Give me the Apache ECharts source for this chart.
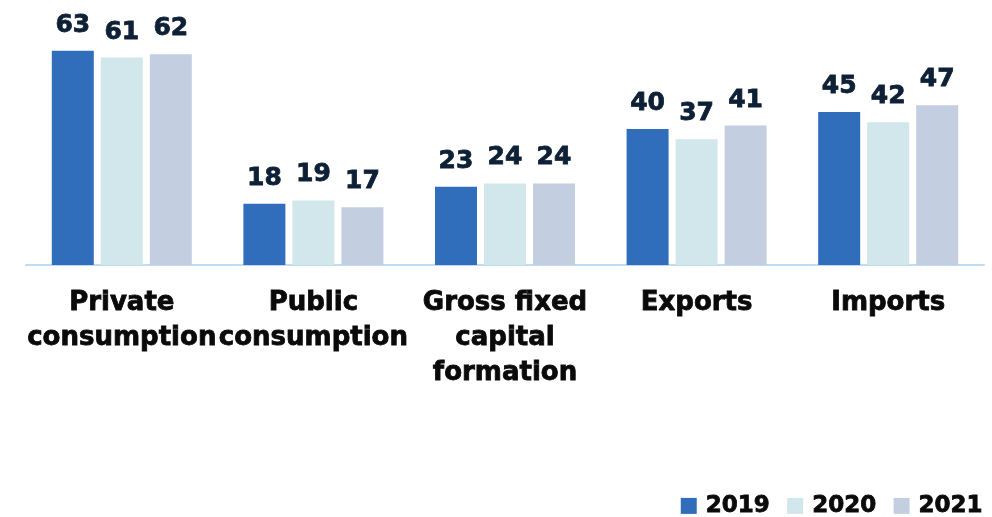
<!DOCTYPE html>
<html>
<head>
<meta charset="utf-8">
<script src="https://cdn.jsdelivr.net/npm/echarts@6/dist/echarts.min.js"></script>
<style>
  html, body { margin: 0; padding: 0; background: #ffffff; }
  #chart { width: 992px; height: 517px; }
</style>
</head>
<body>
<div id="chart"></div>
<script>
// Expenditure components, three years side by side
const categories = [
  'Private\nconsumption',
  'Public\nconsumption',
  'Gross fixed\ncapital\nformation',
  'Exports',
  'Imports'
];
const years = ['2019', '2020', '2021'];
const values2019 = [63, 18, 23, 40, 45];
const values2020 = [61, 19, 24, 37, 42];
const values2021 = [62, 17, 24, 41, 47];

const colors = ['#306EBB', '#D1E7EC', '#C3CEE0'];
const fontFamily = '"DejaVu Sans", sans-serif';
const inkDark = '#0a0a0a';
const inkNavy = '#0D2036';

const seriesData = [values2019, values2020, values2021];

const chart = echarts.init(document.getElementById('chart'), null, { renderer: 'canvas' });

chart.setOption({
  animation: false,
  backgroundColor: '#ffffff',
  color: colors,
  grid: { left: 26, right: 8, top: 27, bottom: 252, containLabel: false },
  legend: {
    data: years,
    right: 4,
    top: 489,
    itemWidth: 16,
    itemHeight: 16,
    itemGap: 17,
    icon: 'rect',
    textStyle: {
      fontFamily, fontWeight: 'bold', fontSize: 23, color: inkDark,
      textBorderColor: inkDark, textBorderWidth: 0.8,
      padding: [0, 0, 0, 4]
    }
  },
  xAxis: {
    type: 'category',
    data: categories,
    axisLine: { show: true, lineStyle: { color: '#BFDDF2', width: 2 } },
    axisTick: { show: false },
    axisLabel: {
      interval: 0,
      margin: 21,
      fontFamily,
      fontWeight: 'bold',
      fontSize: 26,
      lineHeight: 35,
      color: inkDark,
      textBorderColor: inkDark,
      textBorderWidth: 0.8
    }
  },
  yAxis: {
    type: 'value',
    min: 0,
    max: 70,
    show: false,
    splitLine: { show: false }
  },
  series: years.map((y, i) => ({
    name: y,
    type: 'bar',
    data: seriesData[i],
    barWidth: 42,
    barGap: '16.7%',
    itemStyle: { color: colors[i] },
    label: {
      show: true,
      position: 'top',
      distance: 13,
      fontFamily,
      fontWeight: 'bold',
      fontSize: 25,
      color: inkNavy,
      textBorderColor: inkNavy,
      textBorderWidth: 0.8
    }
  }))
});
</script>
</body>
</html>
